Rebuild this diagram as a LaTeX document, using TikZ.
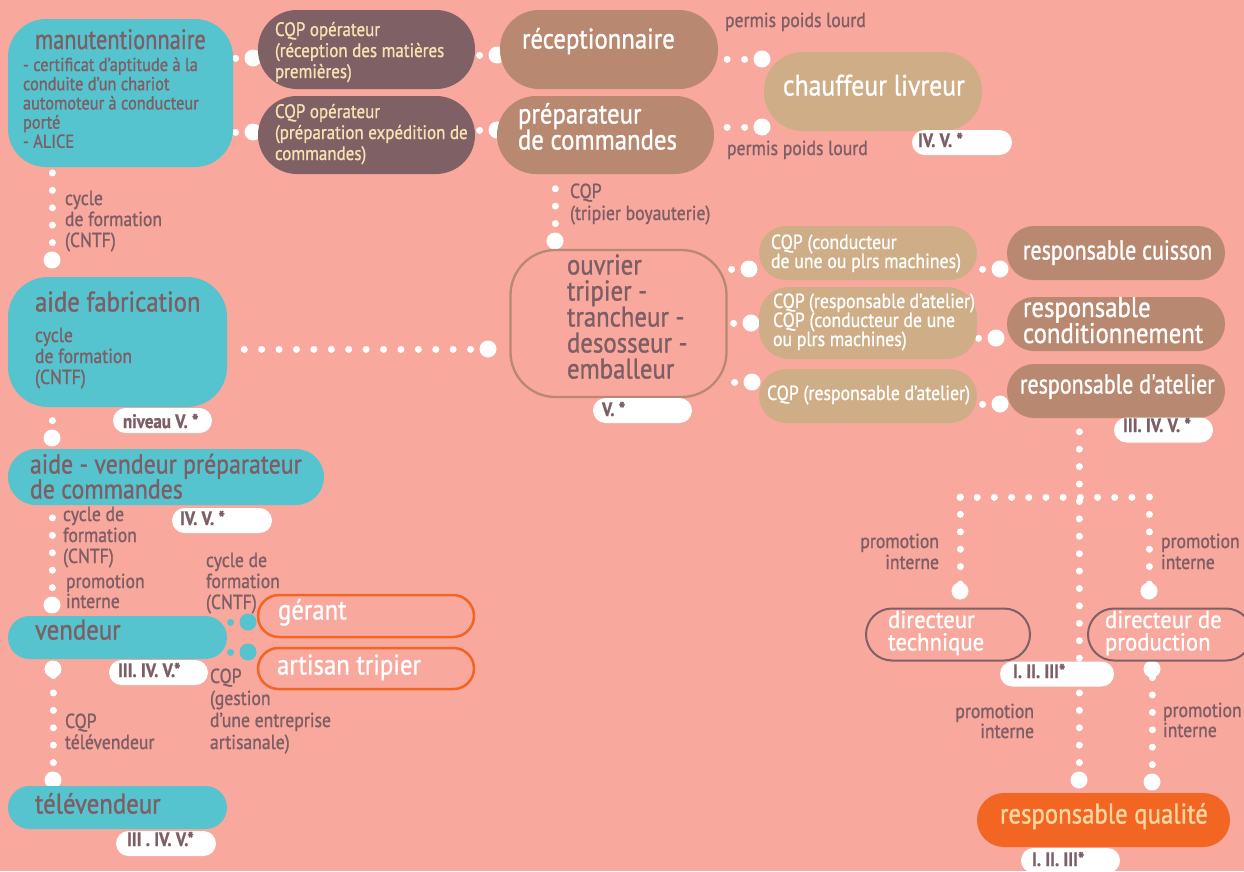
\documentclass[tikz,border=0pt]{standalone}
\usepackage{fontspec}
\setmainfont{PT Sans}[FakeStretch=0.87, FakeBold=1]
\newfontfamily\cnd{PT Sans}[FakeStretch=0.80, FakeBold=1]
\newfontfamily\wid{PT Sans}[FakeStretch=0.93, FakeBold=1]
\definecolor{bgc}{HTML}{F8A89D}
\definecolor{teal1}{HTML}{56C4CE}
\definecolor{mauve}{HTML}{7F6065}
\definecolor{brownb}{HTML}{B98870}
\definecolor{tanb}{HTML}{CFAD86}
\definecolor{orangeb}{HTML}{F26522}
\definecolor{txt}{HTML}{7D5E64}
\definecolor{cream}{HTML}{F7E2B2}
\definecolor{qtext}{HTML}{FAD7A0}
\pgfdeclarelayer{bg}
\pgfdeclarelayer{conn}
\pgfsetlayers{bg,conn,main}
\newcommand\BF{\fontsize{28.5}{26}\selectfont}
\newcommand\SF{\fontsize{20.3}{21}\selectfont}
\newcommand\PF{\bfseries\fontsize{19.5}{19.5}\selectfont}
\tikzset{
  every node/.style={inner sep=0pt, outer sep=0pt},
  bx/.style n args={4}{rectangle, minimum width=#1pt, text width=#1pt-4pt,
    minimum height=#2pt, rounded corners=#3pt, align=flush left,
    execute at begin node={\leftskip=#4pt\lineskiplimit=-30pt}},
  vh/.style n args={2}{text height=#1pt, text depth=#2pt},
  tealbox/.style={fill=teal1, text=txt, font=\BF},
  darkbox/.style={fill=mauve, text=cream, font=\fontsize{19.5}{21}\selectfont},
  brownbox/.style={fill=brownb, text=white, font=\BF},
  tanbox/.style={fill=tanb, text=white, font=\BF},
  tansmall/.style={fill=tanb, text=white, font=\fontsize{20.4}{19}\selectfont},
  orangeline/.style={draw=orangeb, line width=2.5pt, text=white, font=\BF},
  mauveline/.style={draw=mauve, line width=2pt, text=white, font=\wid\fontsize{24.5}{22.4}\selectfont},
  brownline/.style={draw=brownb, line width=2.3pt, text=txt, font=\BF},
  pill/.style n args={3}{rectangle, fill=white, minimum width=#1pt, text width=#1pt-4pt,
    minimum height=25pt, rounded corners=12.5pt, align=flush left, text=txt, font=\PF,
    execute at begin node={\leftskip=#2pt}, text height=#3pt, text depth=0pt},
  lab/.style={text=txt, font=\SF, text width=200pt, align=flush left,
    text height=0pt, text depth=0pt, anchor=west},
  labr/.style={lab, align=flush right, anchor=east},
  bigdot/.style={circle, fill=white, minimum size=17pt},
  tealdot/.style={circle, fill=teal1, minimum size=17pt},
  dotsline/.style={draw=white, line width=7pt, line cap=round, dash pattern=on 0.01pt off 17.4pt},
  tealdots/.style={dotsline, draw=teal1},
}
\begin{document}
\begin{tikzpicture}[x=1pt,y=-1pt]
\useasboundingbox (0,0) rectangle (1244,871);
\begin{pgfonlayer}{bg}
\fill[bgc] (0,0) rectangle (1244,871);
\end{pgfonlayer}
\clip (0,0) rectangle (1244,871);

% ---------- boxes ----------
\node[tealbox, bx={225}{148}{38}{13}, vh={0}{88}] (manu) at (120.5,93)
  {\hspace*{12pt}{\cnd\fontsize{28}{26}\selectfont manutentionnaire}\\[2.8pt]\fontsize{18.8}{19.2}\selectfont
   - certificat d'aptitude à la\\conduite d'un chariot\\automoteur~à~conducteur\\porté\\- ALICE\par};
\node[darkbox, bx={217}{79}{39}{15}, vh={0}{27}] (cqp1) at (366.5,49.5)
  {CQP opérateur\\(réception~des~matières\\premières)};
\node[darkbox, bx={217}{78}{39}{15}, vh={0}{34}] (cqp2) at (366.5,135)
  {CQP opérateur\\(préparation~expédition~de\\commandes)};
\node[brownbox, bx={218}{79}{39}{20}, vh={0}{2}] (recep) at (609,49.5) {réceptionnaire};
\node[brownbox, bx={217}{78}{39}{19}, vh={0}{23}] (prep) at (605.5,135) {préparateur\\de~commandes};
\node[tanbox, font=\fontsize{29.5}{26}\selectfont, bx={218}{79}{39}{17}, vh={8}{0}] (chauf) at (873,91.5) {chauffeur~livreur};

\node[tealbox, bx={219}{130}{40}{25}, vh={0}{61}] (aidefab) at (117.5,342)
  {aide~fabrication\\[9.5pt]\SF cycle\\de formation\\(CNTF)\par};
\node[tealbox, bx={316}{56}{28}{20}, vh={0}{7}] (aidevend) at (166,477)
  {\fontsize{27.4}{25}\selectfont aide~-~vendeur~préparateur\\de~commandes\par};
\node[tealbox, bx={219}{43}{21.5}{25}, vh={4}{0}] (vendeur) at (117.5,637.5) {vendeur};
\node[tealbox, bx={219}{43}{21.5}{25}, vh={12}{0}] (televend) at (117.5,807.5) {télévendeur};
\node[orangeline, bx={216}{42}{21}{18}, vh={7}{0}] (gerant) at (366,616) {gérant};
\node[orangeline, bx={216}{41}{20.5}{17}, vh={12}{0}] (artisan) at (366,668.5) {artisan~tripier};

\node[brownline, bx={216}{147}{45}{54.5}, vh={0}{98}] (ouvrier) at (618.5,323.5)
  {ouvrier\\tripier~-\\trancheur~-\\desosseur~-\\emballeur};
\node[tansmall, bx={218}{54}{27}{10}, vh={0}{8}] (cqpA) at (868,253)
  {CQP~(conducteur\\de~une~ou~plrs~machines)};
\node[tansmall, bx={218}{72}{30}{12}, vh={0}{30}] (cqpB) at (868,323)
  {CQP~(responsable~d'atelier)\\CQP~(conducteur~de~une\\ou~plrs~machines)};
\node[tansmall, bx={218}{54}{27}{6}, vh={8}{0}] (cqpC) at (868,396)
  {CQP~(responsable~d'atelier)};
\node[brownbox, font=\cnd\fontsize{27.5}{26}\selectfont, bx={218}{54}{27}{14}, vh={13}{0}] (respcuis) at (1116,253) {responsable~cuisson};
\node[brownbox, bx={218}{54}{27}{14}, vh={0}{14}] (respcond) at (1116,324)
  {responsable\\conditionnement};
\node[brownbox, font=\cnd\fontsize{27.5}{26}\selectfont, bx={218}{54}{27}{11}, vh={5}{0}] (respat) at (1116,391) {responsable~d'atelier};

\node[mauveline, bx={164}{52}{26}{20}, vh={0}{13}] (dirtech) at (948,634.5) {directeur\\technique};
\node[mauveline, bx={164}{52}{26}{15}, vh={0}{13}] (dirprod) at (1170,634.5) {directeur~de\\production};
\node[fill=orangeb, text=qtext, font=\BF, bx={253}{54}{27}{21}, vh={7}{0}] (respqual) at (1103.5,820)
  {responsable~qualité};

% ---------- level pills ----------
\node[pill={100}{4}{9}] (p1) at (962,142.5) {IV. V. *};
\node[pill={99}{8}{15}] (p2) at (162.5,420.5) {niveau V. *};
\node[pill={100}{6}{9}] (p3) at (222,520.5) {IV. V. *};
\node[pill={99}{7}{9}] (p4) at (158.5,672.5) {III. IV. V.*};
\node[pill={100}{9}{5}] (p5) at (166,843.5) {III . IV. V.*};
\node[pill={99}{7}{11}] (p6) at (642.5,410.5) {V. *};
\node[pill={99}{7}{4}] (p7) at (1163.5,430) {III. IV. V. *};
\node[pill={114}{11}{8}] (p8) at (1057,674) {I. II. III*};
\node[pill={99}{9}{11}] (p9) at (1070.5,860.5) {I. II. III*};

% ---------- labels ----------
\node[lab] (l1) at (725,27) {permis poids lourd};
\node[lab] (l2) at (727,155) {permis poids lourd};
\node[lab] (l3) at (65,205) {cycle\\de formation\\(CNTF)};
\node[lab] (l4) at (570,198) {CQP\\[1pt](tripier boyauterie)};
\node[lab] (l5) at (63,521) {cycle de\\formation\\(CNTF)};
\node[lab] (l6) at (66,588) {promotion\\[-1pt]interne};
\node[lab] (l7) at (206,567) {cycle de\\formation\\(CNTF)};
\node[lab] (l8) at (210,683) {CQP\\[1pt](gestion\\[1pt]d'une entreprise\\[1pt]artisanale)};
\node[lab] (l9) at (65,728) {CQP\\télévendeur};
\node[labr] (l10) at (939,548) {promotion\\interne};
\node[lab] (l11) at (1161,548) {promotion\\interne};
\node[labr] (l12) at (1034,718) {promotion\\[-1pt]interne};
\node[lab] (l13) at (1163,717) {promotion\\[-1pt]interne};

% ---------- connectors ----------
\begin{pgfonlayer}{conn}
\node[bigdot] (d1) at (253,58) {};
\node[bigdot] (d2) at (497,55) {};
\node[bigdot] (d3) at (253,132) {};
\node[bigdot] (d4) at (497,130) {};
\node[bigdot] (d5) at (762,59) {};
\node[bigdot] (d6) at (762,127) {};
\node[bigdot] (d7) at (52,260) {};
\node[bigdot] (d8) at (488,349) {};
\node[bigdot] (d9) at (52,438) {};
\node[bigdot] (d10) at (52,605) {};
\node[bigdot] (d11) at (53,669) {};
\node[bigdot] (d12) at (53,780) {};
\node[tealdot] (t1) at (248,622) {};
\node[tealdot] (t2) at (248,652) {};
\node[bigdot] (d13) at (555,241) {};
\node[bigdot] (d14) at (749,269) {};
\node[bigdot] (d15) at (751,323) {};
\node[bigdot] (d16) at (752,382) {};
\node[bigdot] (d17) at (1000,269) {};
\node[bigdot] (d18) at (996,338) {};
\node[bigdot] (d19) at (1000,404) {};
\node[bigdot] (d20) at (960,591) {};
\node[bigdot] (d21) at (1149,591) {};
\node[bigdot] (d22) at (1079,780) {};
\node[bigdot] (d23) at (1152,669) {};
\node[bigdot] (d24) at (1152,782) {};
\coordinate (tlc) at (960,497);
\coordinate (trc) at (1149,497);

\draw[dotsline] (d1.center) -- (d1.center -| manu.east);
\draw[dotsline] (d2.center) -- (d2.center -| cqp1.east);
\draw[dotsline] (d3.center) -- (d3.center -| manu.east);
\draw[dotsline] (d4.center) -- (d4.center -| cqp2.east);
\draw[dotsline] (d5.center) -- (d5.center -| recep.east);
\draw[dotsline] (d6.center) -- (d6.center -| prep.east);
\draw[dotsline] (d7.center) -- (d7.center |- manu.south);
\draw[dotsline] (d8.center) -- (d8.center -| aidefab.east);
\draw[dotsline] (d9.center) -- (d9.center |- aidefab.south);
\draw[dotsline] (d10.center) -- (d10.center |- aidevend.south);
\draw[dotsline] (d12.center) -- (d11.center);
\draw[tealdots] (t1.center) -- (t1.center -| vendeur.east);
\draw[tealdots] (t2.center) -- (t2.center -| vendeur.east);
\draw[dotsline] (d13.center) -- (d13.center |- prep.south);
\draw[dotsline] (d14.center) -- (d14.center -| ouvrier.east);
\draw[dotsline] (d15.center) -- (d15.center -| ouvrier.east);
\draw[dotsline] (d16.center) -- (d16.center -| ouvrier.east);
\draw[dotsline] (d17.center) -- (d17.center -| cqpA.east);
\draw[dotsline] (d18.center) -- (d18.center -| cqpB.east);
\draw[dotsline] (d19.center) -- (d19.center -| cqpC.east);
\draw[dotsline] (d22.center) -- (d22.center |- respat.south);
\draw[dotsline, dash pattern=on 0.01pt off 17.18pt] (tlc) -- (trc);
\draw[dotsline] (tlc) -- (d20.center);
\draw[dotsline] (trc) -- (d21.center);
\draw[dotsline] (d24.center) -- (d23.center);
\end{pgfonlayer}
\end{tikzpicture}
\end{document}
